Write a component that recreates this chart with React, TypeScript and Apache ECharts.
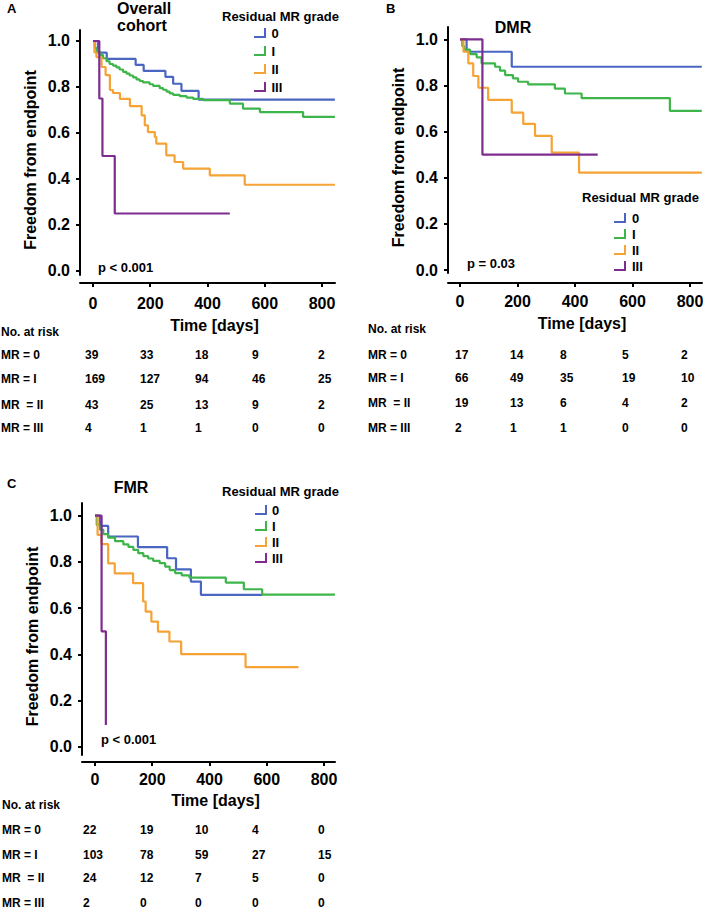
import React, { useEffect, useRef } from "react";
import * as echarts from "echarts";

const FONT = "'Liberation Sans', Arial, Helvetica, sans-serif";
const GRADES = ["0", "I", "II", "III"];
const COLORS = ["#4a66c2", "#3db54a", "#f6a235", "#7e2d8f"];
const X_TICKS = [0, 200, 400, 600, 800];
const Y_TICKS = [0, 0.2, 0.4, 0.6, 0.8, 1.0];
const ROW_LABELS = ["MR = 0", "MR = I", "MR  = II", "MR = III"];

// ---- Panel A: Overall cohort (Kaplan-Meier steps: [day, survival]) ----
const A_MR0 = [[0, 1], [17, 0.949], [48, 0.922], [149, 0.896], [177, 0.87], [253, 0.844], [280, 0.814], [309, 0.783], [369, 0.745], [845, 0.745]];
const A_MR1 = [[0, 1], [6, 0.97], [12, 0.955], [23, 0.94], [35, 0.925], [47, 0.912], [58, 0.9], [70, 0.893], [82, 0.885], [93, 0.876], [105, 0.866], [117, 0.858], [128, 0.85], [140, 0.842], [152, 0.833], [163, 0.826], [175, 0.82], [198, 0.812], [210, 0.805], [233, 0.795], [245, 0.788], [257, 0.78], [268, 0.772], [280, 0.766], [303, 0.76], [327, 0.754], [350, 0.748], [385, 0.743], [478, 0.728], [524, 0.706], [583, 0.691], [734, 0.67], [845, 0.67]];
const A_MR2 = [[0, 1], [5, 0.95], [12, 0.93], [30, 0.887], [44, 0.852], [59, 0.787], [70, 0.774], [94, 0.748], [129, 0.717], [170, 0.677], [181, 0.633], [192, 0.604], [216, 0.583], [221, 0.554], [256, 0.503], [285, 0.474], [315, 0.445], [408, 0.416], [530, 0.375], [845, 0.375]];
const A_MR3 = [[0, 1], [22, 0.75], [33, 0.5], [76, 0.25], [478, 0.25]];
const A_RISK = [[39, 33, 18, 9, 2], [169, 127, 94, 46, 25], [43, 25, 13, 9, 2], [4, 1, 1, 0, 0]];

// ---- Panel B: DMR ----
const B_MR0 = [[0, 1], [23, 0.946], [180, 0.881], [841, 0.881]];
const B_MR1 = [[0, 1], [8, 0.97], [15, 0.955], [35, 0.936], [58, 0.922], [75, 0.896], [122, 0.881], [139, 0.864], [157, 0.845], [184, 0.831], [202, 0.816], [237, 0.805], [330, 0.786], [365, 0.765], [423, 0.745], [730, 0.69], [841, 0.69]];
const B_MR2 = [[0, 1], [12, 0.946], [29, 0.896], [46, 0.841], [64, 0.79], [98, 0.737], [180, 0.682], [220, 0.633], [261, 0.581], [319, 0.509], [414, 0.422], [841, 0.422]];
const B_MR3 = [[0, 1], [78, 0.5], [479, 0.5]];
const B_RISK = [[17, 14, 8, 5, 2], [66, 49, 35, 19, 10], [19, 13, 6, 4, 2], [2, 1, 1, 0, 0]];

// ---- Panel C: FMR ----
const C_MR0 = [[0, 1], [17, 0.956], [46, 0.91], [150, 0.864], [252, 0.816], [283, 0.768], [335, 0.715], [370, 0.658], [584, 0.658]];
const C_MR1 = [[0, 1], [6, 0.96], [17, 0.94], [29, 0.92], [46, 0.905], [70, 0.89], [99, 0.876], [117, 0.865], [134, 0.852], [151, 0.838], [169, 0.825], [186, 0.815], [203, 0.805], [226, 0.795], [245, 0.78], [261, 0.765], [280, 0.752], [303, 0.742], [330, 0.732], [457, 0.711], [520, 0.682], [584, 0.659], [838, 0.659]];
const C_MR2 = [[0, 1], [9, 0.917], [23, 0.877], [46, 0.794], [69, 0.751], [133, 0.708], [168, 0.629], [177, 0.585], [197, 0.542], [220, 0.499], [260, 0.456], [301, 0.401], [526, 0.345], [711, 0.345]];
const C_MR3 = [[0, 1], [23, 0.5], [38, 0.095]];
const C_RISK = [[22, 19, 10, 4, 0], [103, 78, 59, 27, 15], [24, 12, 7, 5, 0], [2, 0, 0, 0, 0]];

// ---- Layout (pixels) ----
const PANELS = [
  {
    letter: "A", letterXY: [7, 2], title: "Overall\ncohort", titleXY: [117, 0], titleAlign: "left",
    series: [A_MR0, A_MR1, A_MR2, A_MR3], risk: A_RISK, p: "p < 0.001", pXY: [98, 267],
    grid: { left: 80, top: 30, width: 255, height: 245 }, x: [-45.4, 845.4], y: [-0.0174, 1.0478], xOffset: 8,
    labelMargin: 12, nameGap: 34,
    legendTitleXY: [222, 16], legend: { left: 254, top: 26, itemWidth: 13, itemGap: 4 },
    tableX: 1, tableCols: [85, 140, 195, 252, 318], tableRows: [332, 355, 379, 405, 428],
  },
  {
    letter: "B", letterXY: [386, 2], title: "DMR", titleXY: [513, 19], titleAlign: "center",
    series: [B_MR0, B_MR1, B_MR2, B_MR3], risk: B_RISK, p: "p = 0.03", pXY: [467, 263],
    grid: { left: 448, top: 27, width: 254, height: 246 }, x: [-41.7, 841.7], y: [-0.013, 1.0533], xOffset: 10,
    labelMargin: 10, nameGap: 32,
    legendTitleXY: [582, 197], legend: { left: 614, top: 211, itemWidth: 14, itemGap: 2 },
    tableX: 368, tableCols: [455, 510, 560, 622, 681], tableRows: [329, 355, 378, 403, 428],
  },
  {
    letter: "C", letterXY: [7, 477], title: "FMR", titleXY: [131, 479], titleAlign: "center",
    series: [C_MR0, C_MR1, C_MR2, C_MR3], risk: C_RISK, p: "p < 0.001", pXY: [101, 739],
    grid: { left: 82, top: 503, width: 253, height: 252 }, x: [-45.4, 838.4], y: [-0.035, 1.055], xOffset: 7,
    labelMargin: 9, nameGap: 30,
    legendTitleXY: [222, 491], legend: { left: 255, top: 503, itemWidth: 12, itemGap: 2 },
    tableX: 2, tableCols: [83, 140, 195, 252, 318], tableRows: [805, 830, 855, 878, 903],
  },
];

const LEGEND_ICON = "path://M0,8L10,8L10,0L12,0L12,10L0,10Z";

function txt(text: string, x: number, y: number, size: number, align = "left", vAlign = "middle", extra: any = {}) {
  return {
    type: "text",
    x,
    y,
    silent: true,
    style: {
      text,
      fill: "#000",
      fontSize: size,
      fontWeight: "bold",
      fontFamily: FONT,
      align,
      verticalAlign: vAlign,
      ...extra,
    },
  };
}

function buildOption() {
  const grids: any[] = [];
  const xAxes: any[] = [];
  const yAxes: any[] = [];
  const series: any[] = [];
  const legends: any[] = [];
  const graphics: any[] = [];

  PANELS.forEach((p, i) => {
    grids.push({ ...p.grid, containLabel: false, outerBoundsMode: "none" });
    xAxes.push({
      type: "value",
      gridIndex: i,
      min: p.x[0],
      max: p.x[1],
      offset: p.xOffset,
      name: "Time [days]",
      nameLocation: "middle",
      nameGap: p.nameGap,
      nameMoveOverlap: false,
      nameTextStyle: { fontSize: 16, fontWeight: "bold", fontFamily: FONT, color: "#000", padding: [0, 0, 0, 14] },
      axisLine: { show: true, onZero: false, lineStyle: { color: "#000", width: 2 } },
      axisTick: { show: true, customValues: X_TICKS, length: 4, lineStyle: { color: "#000", width: 2 } },
      axisLabel: { customValues: X_TICKS, margin: p.labelMargin, fontSize: 16, fontWeight: "bold", fontFamily: FONT, color: "#000" },
      splitLine: { show: false },
    });
    yAxes.push({
      type: "value",
      gridIndex: i,
      min: p.y[0],
      max: p.y[1],
      name: "Freedom from endpoint",
      nameLocation: "middle",
      nameRotate: 90,
      nameGap: 42,
      nameMoveOverlap: false,
      nameTextStyle: { fontSize: 16, fontWeight: "bold", fontFamily: FONT, color: "#000", padding: [0, 15, 0, 0] },
      axisLine: { show: true, onZero: false, lineStyle: { color: "#000", width: 2 } },
      axisTick: { show: true, customValues: Y_TICKS, length: 4, lineStyle: { color: "#000", width: 2 } },
      axisLabel: {
        customValues: Y_TICKS,
        margin: 10,
        fontSize: 16,
        fontWeight: "bold",
        fontFamily: FONT,
        color: "#000",
        formatter: (v: number) => v.toFixed(1),
      },
      splitLine: { show: false },
    });
    p.series.forEach((data, g) => {
      series.push({
        type: "line",
        name: GRADES[g],
        xAxisIndex: i,
        yAxisIndex: i,
        data,
        step: "end",
        showSymbol: false,
        symbol: "none",
        lineStyle: { width: 2.2, color: COLORS[g] },
        itemStyle: { color: COLORS[g] },
        emphasis: { disabled: true },
      });
    });
    legends.push({
      orient: "vertical",
      align: "left",
      left: p.legend.left,
      top: p.legend.top,
      padding: 0,
      itemWidth: p.legend.itemWidth,
      itemHeight: 10,
      itemGap: p.legend.itemGap,
      selectedMode: false,
      icon: LEGEND_ICON,
      data: GRADES,
      textStyle: { fontSize: 13, fontWeight: "bold", fontFamily: FONT, color: "#000", lineHeight: 14 },
    });

    graphics.push(txt(p.letter, p.letterXY[0], p.letterXY[1], 13, "left", "top"));
    graphics.push(txt(p.title, p.titleXY[0], p.titleXY[1], 16, p.titleAlign, "top", { lineHeight: 17 }));
    graphics.push(txt("Residual MR grade", p.legendTitleXY[0], p.legendTitleXY[1], 13));
    graphics.push(txt(p.p, p.pXY[0], p.pXY[1], 13));
    graphics.push(txt("No. at risk", p.tableX, p.tableRows[0], 12));
    ROW_LABELS.forEach((lab, r) => {
      graphics.push(txt(lab, p.tableX, p.tableRows[r + 1], 12, "left", "middle", { whiteSpace: "pre" }));
      p.risk[r].forEach((v, c) => {
        graphics.push(txt(String(v), p.tableCols[c], p.tableRows[r + 1], 12));
      });
    });
  });

  return {
    animation: false,
    backgroundColor: "#fff",
    textStyle: { fontFamily: FONT, fontWeight: "bold" },
    grid: grids,
    xAxis: xAxes,
    yAxis: yAxes,
    legend: legends,
    series,
    graphic: graphics,
  };
}

export default function App() {
  const ref = useRef<HTMLDivElement | null>(null);
  useEffect(() => {
    if (!ref.current) return;
    const chart = echarts.init(ref.current, null, { renderer: "svg" });
    chart.setOption(buildOption() as any);
    return () => chart.dispose();
  }, []);
  return (
    <div
      ref={ref}
      style={{ position: "fixed", left: 0, top: 0, width: 709, height: 909, background: "#fff" }}
    />
  );
}
